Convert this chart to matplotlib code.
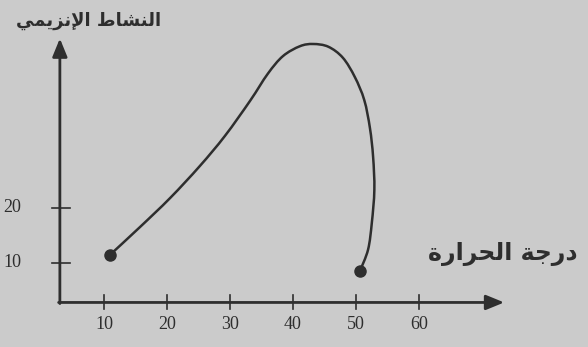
import matplotlib
matplotlib.use('Agg')
import matplotlib.pyplot as plt
import numpy as np
from matplotlib.path import Path
from matplotlib.patches import PathPatch

# enzyme activity against temperature
temperatura = [10.9, 15.7, 20.5, 25.2, 29.2, 33.2, 36.0, 38.4, 41.1, 43.2, 45.6, 47.9,
               49.8, 51.3, 52.2, 52.7, 52.9, 52.5, 51.9, 50.6]
atividade = [11.4, 16.5, 21.8, 27.6, 33.1, 39.5, 44.4, 47.6, 49.4, 49.8, 49.3, 47.3,
             43.8, 39.6, 34.5, 29.3, 23.3, 17.3, 12.4, 8.5]

ticks_x = [10, 20, 30, 40, 50, 60]
ticks_y = [10, 20]

# Arabic labels written with presentation forms in visual (left to right) order
rotulo_y = '\uFEF2\uFEE4\uFEF3\uFEB0\uFEE7\uFEF9\uFE8D \uFEC1\uFE8E\uFEB8\uFEE8\uFEDF\uFE8D'  # النشاط الإنزيمي
rotulo_x = '\uFE93\uFEAD\uFE8D\uFEAE\uFEA4\uFEDF\uFE8D \uFE94\uFE9F\uFEAD\uFEA9'  # درجة الحرارة

COR = '#2e2e2e'
FUNDO = '#cbcbcb'


def curva_suave(xs, ys):
    # catmull-rom through the points, handed to matplotlib as cubic beziers
    p = np.column_stack([xs, ys])
    p = np.vstack([p[0], p, p[-1]])
    verts = [p[1]]
    codes = [Path.MOVETO]
    for i in range(1, len(p) - 2):
        c1 = p[i] + (p[i + 1] - p[i - 1]) / 6
        c2 = p[i + 1] - (p[i + 2] - p[i]) / 6
        verts += [c1, c2, p[i + 1]]
        codes += [Path.CURVE4] * 3
    return Path(verts, codes)


def main():
    fig = plt.figure(figsize=(5.88, 3.47), dpi=100)
    fig.patch.set_facecolor(FUNDO)
    ax = fig.add_axes([0, 0, 1, 1])
    ax.set_facecolor(FUNDO)
    ax.set_xlim(-6.5, 86.8)
    ax.set_ylim(-5.3, 57.8)
    ax.axis('off')

    x0, y0 = 3.0, 2.8

    # axes with arrow heads
    ax.annotate('', xy=(73.5, y0), xytext=(x0 - 0.2, y0),
                arrowprops=dict(arrowstyle='-|>,head_length=1.1,head_width=0.45',
                                color=COR, lw=2.0, shrinkA=0, shrinkB=0))
    ax.annotate('', xy=(x0, 50.8), xytext=(x0, y0 - 0.2),
                arrowprops=dict(arrowstyle='-|>,head_length=1.1,head_width=0.45',
                                color=COR, lw=2.0, shrinkA=0, shrinkB=0))

    for t in ticks_x:
        ax.plot([t, t], [y0 - 1.1, y0 + 1.4], color=COR, lw=1.2)
        ax.text(t, y0 - 4.0, str(t), ha='center', va='center',
                fontsize=13, family='Liberation Serif', color=COR)
    for t in ticks_y:
        ax.plot([x0 - 1.2, x0 + 1.6], [t, t], color=COR, lw=1.2)
        ax.text(x0 - 7.5, t, str(t), ha='center', va='center',
                fontsize=13, family='Liberation Serif', color=COR)

    ax.add_patch(PathPatch(curva_suave(temperatura, atividade), fill=False,
                           edgecolor=COR, lw=1.8, capstyle='round'))
    ax.plot([temperatura[0], temperatura[-1]], [atividade[0], atividade[-1]],
            'o', color=COR, markersize=8)

    ax.text(7.5, 54.0, rotulo_y, ha='center', va='center', fontsize=13,
            family='DejaVu Sans', weight='bold', color=COR)
    ax.text(73.3, 11.6, rotulo_x, ha='center', va='center', fontsize=17,
            family='DejaVu Sans', weight='bold', color=COR)

    fig.savefig('out.png', dpi=100, facecolor=FUNDO)


main()
